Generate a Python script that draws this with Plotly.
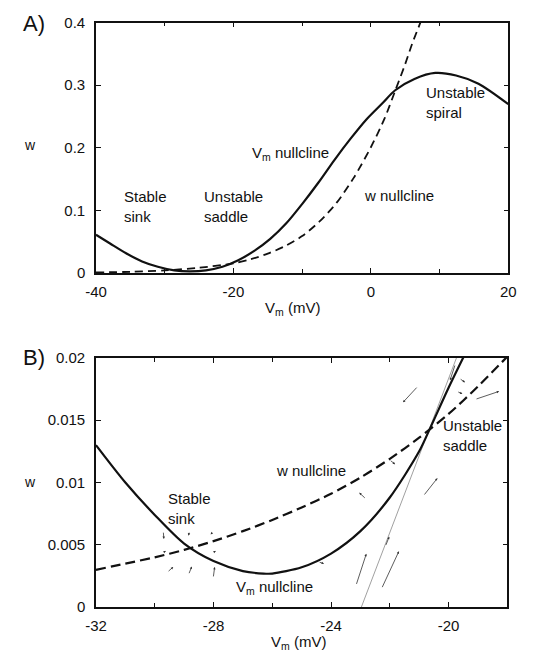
import plotly.graph_objects as go

# ---------------- data: panel A ----------------
a_vm_x = [-40, -37.95, -35.62, -33.29, -31.0, -28.6, -26.3, -24.0, -21.6, -19.3,
          -16.97, -14.64, -12.31, -9.98, -7.65, -5.31, -2.98, -0.65, 1.68, 3.54,
          6.34, 9.37, 12.4, 15.66, 20]
a_vm_w = [0.0612, 0.0472, 0.0316, 0.0185, 0.0100, 0.0042, 0.0027, 0.0043, 0.0100, 0.0205,
          0.0353, 0.0545, 0.0794, 0.1105, 0.1442, 0.1805, 0.2143, 0.2454, 0.2713, 0.2920,
          0.3100, 0.3196, 0.3156, 0.3025, 0.2698]
a_w_x = [-40, -35, -30, -25, -20, -17.5, -15, -12.5, -10, -7.5, -5, -2.5, 0, 2, 3.5, 5, 6, 7.2]
a_w_w = [0.001, 0.002, 0.0042, 0.0085, 0.0155, 0.022, 0.031, 0.043, 0.059, 0.082,
         0.112, 0.152, 0.201, 0.247, 0.290, 0.334, 0.366, 0.400]
a_xticks = [-40, -20, 0, 20]
a_xlabels = ["-40", "-20", "0", "20"]

# ---------------- data: panel B ----------------
b_vm_x = [-32, -31, -30, -29, -28, -27, -26.3, -26, -25, -24, -23, -22, -21, -20.6, -20, -19.4]
b_vm_w = [0.0130, 0.0100, 0.0074, 0.0051, 0.0037, 0.0029, 0.0027, 0.0027, 0.0032, 0.0043,
          0.0061, 0.0088, 0.0125, 0.0145, 0.0176, 0.0205]
b_w_x = [-32, -31, -30, -29, -28, -27, -26, -25, -24, -23, -22, -21, -20, -19, -18]
b_w_w = [0.0030, 0.0035, 0.0040, 0.0046, 0.0053, 0.0061, 0.0070, 0.0080, 0.0091, 0.0104,
         0.0119, 0.0136, 0.0155, 0.0177, 0.0201]
b_xticks = [-32, -28, -24, -20]
b_xlabels = ["-32", "-28", "-24", "-20"]
# stable manifold (thin straight line through the saddle)
b_man_x = [-22.97, -19.73]
b_man_w = [0.0, 0.02]
# vector field arrows: tail -> head
arr_tail_x = [-19.77, -22.15, -19.64, -19.72, -19.10, -21.04, -22.02, -22.80, -20.86, -23.15, -22.28, -24.44,
              -29.71, -29.72, -28.82, -28.01, -28.01, -29.58, -28.85, -28.01]
arr_tail_w = [0.0195, 0.00488, 0.01836, 0.01731, 0.01666, 0.01773, 0.01184, 0.00866, 0.00892, 0.00175, 0.00149, 0.00365,
              0.0061, 0.0044, 0.0061, 0.00605, 0.0044, 0.00279, 0.00261, 0.00235]
arr_head_x = [-19.95, -22.02, -19.44, -19.53, -18.28, -21.55, -21.82, -23.04, -20.38, -22.80, -21.69, -24.24,
              -29.69, -29.62, -28.85, -28.10, -27.92, -29.37, -28.74, -27.96]
arr_head_w = [0.0182, 0.00566, 0.01804, 0.01711, 0.01731, 0.01643, 0.01147, 0.00918, 0.01035, 0.00428, 0.00449, 0.00349,
              0.00548, 0.0045, 0.00574, 0.00584, 0.0045, 0.00323, 0.00326, 0.00323]

# ---------------- figure ----------------
INK = "#111111"
FONT = "Liberation Sans, Arial, sans-serif"
W, H = 553, 662

fig = go.Figure()
fig.add_trace(go.Scatter(x=a_vm_x, y=a_vm_w, mode="lines", xaxis="x", yaxis="y",
                         line=dict(color=INK, width=2.2, shape="spline", smoothing=0.8), hoverinfo="skip"))
fig.add_trace(go.Scatter(x=a_w_x, y=a_w_w, mode="lines", xaxis="x", yaxis="y",
                         line=dict(color=INK, width=1.8, dash="8px,5px", shape="spline", smoothing=0.8), hoverinfo="skip"))
fig.add_trace(go.Scatter(x=b_man_x, y=b_man_w, mode="lines", xaxis="x2", yaxis="y2",
                         line=dict(color="#888888", width=0.8), hoverinfo="skip"))
fig.add_trace(go.Scatter(x=b_vm_x, y=b_vm_w, mode="lines", xaxis="x2", yaxis="y2",
                         line=dict(color=INK, width=2.2, shape="spline", smoothing=0.8), hoverinfo="skip"))
fig.add_trace(go.Scatter(x=b_w_x, y=b_w_w, mode="lines", xaxis="x2", yaxis="y2",
                         line=dict(color=INK, width=2.2, dash="10px,5px", shape="spline", smoothing=0.8), hoverinfo="skip"))

axis_common = dict(showline=True, linecolor=INK, linewidth=1.5, mirror="ticks", ticks="inside",
                   ticklen=5, tickcolor=INK, tickwidth=1, showgrid=False, zeroline=False,
                   tickfont=dict(family=FONT, size=15, color=INK))

L, R = 88, 515
fig.update_layout(
    width=W, height=H, margin=dict(l=0, r=0, t=0, b=0),
    paper_bgcolor="white", plot_bgcolor="white", showlegend=False,
    xaxis=dict(axis_common, domain=[L/W, R/W], range=[-40, 20], tickvals=a_xticks, ticktext=a_xlabels,
               ticklabelstandoff=4,
               minor=dict(ticks="inside", ticklen=4, tickcolor=INK, dtick=10, tick0=-40), anchor="y"),
    yaxis=dict(axis_common, domain=[1-271/H, 1-14/H], range=[0, 0.4], dtick=0.1, anchor="x",
               ticklabelstandoff=6),
    xaxis2=dict(axis_common, domain=[L/W, (R-1)/W], range=[-32, -18], tickvals=b_xticks, ticktext=b_xlabels,
                ticklabelstandoff=4,
                minor=dict(ticks="inside", ticklen=4, tickcolor=INK, dtick=2, tick0=-32), anchor="y2"),
    yaxis2=dict(axis_common, domain=[1-614/H, 1-358/H], range=[0, 0.02], dtick=0.005, anchor="x2",
                ticklabelstandoff=6),
)

ann = []
def txt(x, y, s, xref, yref, size=15, xanchor="left"):
    ann.append(dict(x=x, y=y, xref=xref, yref=yref, text=s, showarrow=False, xanchor=xanchor,
                    yanchor="middle", align="left", font=dict(family=FONT, size=size, color=INK)))

# panel A texts
txt(-36.2, 0.106, "Stable<br>sink", "x", "y")
txt(-24.5, 0.106, "Unstable<br>saddle", "x", "y")
txt(-17.6, 0.191, "V<sub>m</sub> nullcline", "x", "y")
txt(-1.3, 0.124, "w nullcline", "x", "y")
txt(7.8, 0.272, "Unstable<br>spiral", "x", "y")
# panel B texts
txt(-29.6, 0.0079, "Stable<br>sink", "x2", "y2")
txt(-25.95, 0.0110, "w nullcline", "x2", "y2")
txt(-27.3, 0.0016, "V<sub>m</sub> nullcline", "x2", "y2")
txt(-20.25, 0.0138, "Unstable<br>saddle", "x2", "y2")
# panel labels and axis titles (paper pixels)
def ptxt(px, py, s, size, xanchor="center"):
    ann.append(dict(x=px/W, y=1-py/H, xref="paper", yref="paper", text=s, showarrow=False,
                    xanchor=xanchor, yanchor="middle", font=dict(family=FONT, size=size, color=INK)))
ptxt(10, 15, "A)", 22, "left")
ptxt(10, 358, "B)", 22, "left")
ptxt(20, 140, "w", 14)
ptxt(20, 485, "w", 14)
ptxt(292, 307, "V<sub>m</sub> (mV)", 15)
ptxt(298, 650, "V<sub>m</sub> (mV)", 15)

for tx, tw, hx, hw in zip(arr_tail_x, arr_tail_w, arr_head_x, arr_head_w):
    ann.append(dict(x=hx, y=hw, ax=tx, ay=tw, xref="x2", yref="y2", axref="x2", ayref="y2",
                    showarrow=True, arrowhead=2, arrowsize=0.6, arrowwidth=0.8, arrowcolor="#333333",
                    text=""))

fig.update_layout(annotations=ann)
fig.write_html("out.html")
